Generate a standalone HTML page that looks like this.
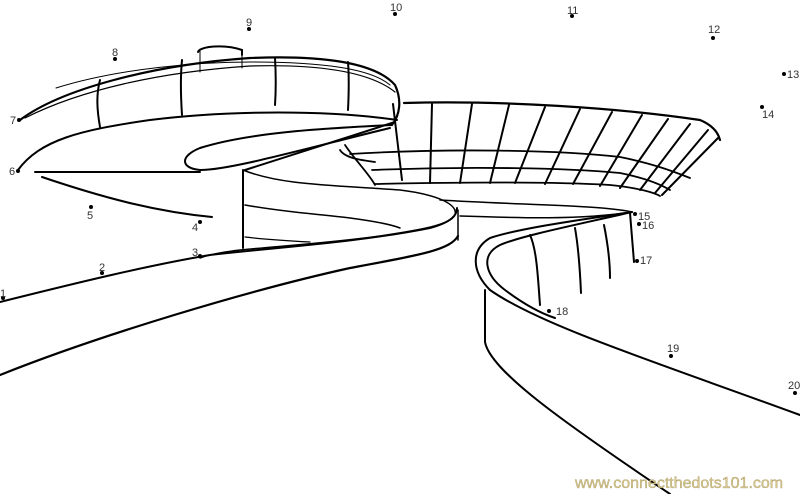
<!DOCTYPE html>
<html><head><meta charset="utf-8"><style>
html,body{margin:0;padding:0;background:#fff;width:800px;height:494px;overflow:hidden}
svg{display:block}
text{font-family:"Liberation Sans",sans-serif;font-size:11px;fill:#333}
</style></head><body>
<svg width="800" height="494" viewBox="0 0 800 494" xmlns="http://www.w3.org/2000/svg">
<g fill="none" stroke="#000" stroke-linecap="round">
<!-- upper disc -->
<path d="M55,58 C120,40 250,25 300,28" stroke-width="0" />
<path d="M198,52 C200,46 225,44 242,50 L242,55" stroke-width="2"/>
<path d="M200,49 L200,72 M242,52 L242,68" stroke-width="1"/>
<path d="M20,120 C60,90 150,65 250,58 C320,55 375,62 395,85 C402,100 400,115 392,125" stroke-width="2.2"/>
<path d="M56,88 C120,68 200,62 250,62 C320,62 370,68 390,85" stroke-width="1"/>
<path d="M25,118 C80,90 160,72 250,66 C320,64 370,72 395,92" stroke-width="1.2"/>
<path d="M18,170 C40,140 80,130 150,120 C230,110 330,110 397,120" stroke-width="2"/>
<path d="M100,80 C96,95 97,110 100,127 M182,60 C180,80 181,100 182,115 M275,58 C276,75 276,90 275,105 M348,62 C349,75 349,90 348,110" stroke-width="2"/>
<!-- ramp hole -->
<path d="M392,125 C330,128 250,132 200,148 C180,156 180,168 200,170 C230,170 300,150 390,128" stroke-width="2"/>
<path d="M395,122 L245,170" stroke-width="2"/>
<path d="M35,172 L200,172" stroke-width="2"/>
<path d="M42,177 C110,200 160,212 212,217" stroke-width="2"/>
<!-- tower -->
<path d="M243,170 L243,248" stroke-width="2"/>
<path d="M245,205 C290,213 320,214 350,218 C380,222 395,226 400,228" stroke-width="1.5"/>
<path d="M245,237 C270,240 290,241 310,242" stroke-width="1.2"/>
<path d="M243,170 C280,185 330,185 400,190 C440,195 458,205 455,215 C450,225 420,230 380,236 C330,243 280,246 240,250 C215,253 205,256 200,258" stroke-width="1.5"/>
<path d="M0,302 C80,282 150,265 210,255 C280,247 360,242 430,228 C452,222 457,215 457,208" stroke-width="2"/>
<path d="M458,210 L458,240" stroke-width="1.5"/>
<path d="M0,375 C100,335 250,290 350,268 C420,255 450,250 458,236" stroke-width="2.2"/>
<!-- right building -->
<path d="M404,103 C500,100 620,108 700,120 C712,125 718,132 720,140" stroke-width="2.2"/>
<path d="M340,150 C345,158 360,160 375,162 M345,145 C355,160 370,175 375,185" stroke-width="1.8"/>
<path d="M350,154 C450,148 560,150 620,157 C650,163 670,170 690,178" stroke-width="1.8"/>
<path d="M372,170 C470,166 570,168 620,173 C645,178 660,184 670,190" stroke-width="1.8"/>
<path d="M375,184 C470,182 560,182 610,185 C640,188 655,193 660,196" stroke-width="1.8"/>
<path d="M393,104 L402,180 M432,104 L430,183 M472,104 L460,183 M509,105 L490,183 M545,107 L515,183 M580,109 L545,184 M612,112 L573,184 M642,115 L600,186 M668,119 L620,188 M690,124 L640,190 M708,130 L655,193 M718,138 L662,195" stroke-width="2"/>
<!-- bridge -->
<path d="M460,216 C520,218 580,220 632,212" stroke-width="1.5"/>
<path d="M440,200 C520,205 600,205 632,212" stroke-width="1.5"/>
<!-- right ramp -->
<path d="M632,212 C580,220 520,228 490,238 C470,250 472,272 490,290 C540,325 650,360 800,415" stroke-width="2"/>
<path d="M632,212 C580,224 520,236 500,245 C480,255 485,275 505,290 C525,305 540,313 555,318" stroke-width="2"/>
<path d="M485,290 L485,342 C490,370 560,420 670,494" stroke-width="2"/>
<path d="M530,235 C537,250 538,280 540,305 M575,228 C578,245 580,270 581,293 M604,225 C607,240 610,260 610,278 M630,213 L634,262" stroke-width="2"/>
</g>
<g fill="#000">
<circle cx="3" cy="298" r="2"/><circle cx="102" cy="273" r="2"/><circle cx="200" cy="256" r="2"/><circle cx="200" cy="222" r="2"/><circle cx="91" cy="207" r="2"/><circle cx="18" cy="171" r="2"/><circle cx="19" cy="120" r="2"/><circle cx="115" cy="59" r="2"/><circle cx="249" cy="29" r="2"/><circle cx="395" cy="14" r="2"/><circle cx="572" cy="16" r="2"/><circle cx="713" cy="38" r="2"/><circle cx="784" cy="74" r="2"/><circle cx="762" cy="107" r="2"/><circle cx="635" cy="214" r="2"/><circle cx="639" cy="224" r="2"/><circle cx="637" cy="261" r="2"/><circle cx="549" cy="311" r="2"/><circle cx="671" cy="356" r="2"/><circle cx="795" cy="393" r="2"/>
</g>
<text x="0" y="297">1</text><text x="99" y="271">2</text><text x="192" y="256">3</text><text x="192" y="231">4</text><text x="87" y="219">5</text><text x="9" y="175">6</text><text x="10" y="124">7</text><text x="112" y="56">8</text><text x="246" y="26">9</text><text x="390" y="11">10</text><text x="567" y="14">11</text><text x="708" y="33">12</text><text x="787" y="78">13</text><text x="762" y="118">14</text><text x="638" y="220">15</text><text x="642" y="229">16</text><text x="640" y="264">17</text><text x="556" y="315">18</text><text x="667" y="352">19</text><text x="788" y="389">20</text>
<text x="575" y="488" style="font-size:16px;fill:#d8c890;stroke:#9a8a50;stroke-width:0.3">www.connectthedots101.com</text>
</svg>
</body></html>
